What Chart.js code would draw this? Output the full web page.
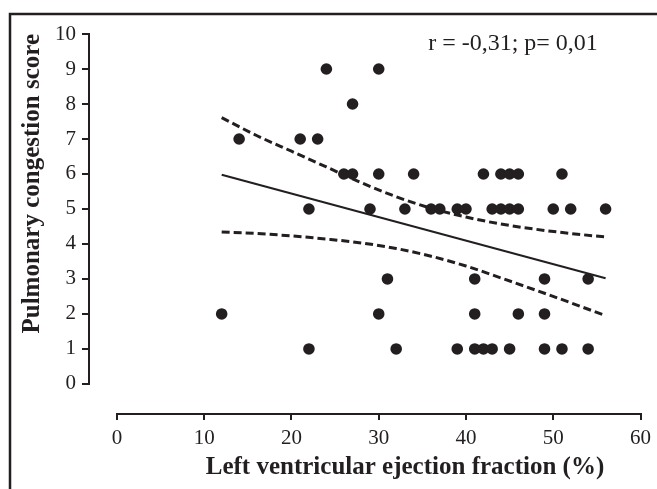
<!DOCTYPE html>
<html>
<head>
<meta charset="utf-8">
<script src="https://cdn.jsdelivr.net/npm/chart.js@4"></script>
<style>
  html, body { margin: 0; padding: 0; background: #fff; }
  #wrap { width: 657px; height: 489px; }
</style>
</head>
<body>
<div id="wrap"><canvas id="lvefChart" width="657" height="489"></canvas></div>
<script>
// Données
const lvef = [24, 30, 27, 14, 21, 23,
  26, 27, 30, 34, 42, 44, 45, 46, 51,
  22, 29, 33, 36, 37, 39, 40, 43, 44, 45, 46, 50, 52, 56,
  31, 41, 49, 54,
  12, 30, 41, 46, 49,
  22, 32, 39, 41, 42, 43, 45, 49, 51, 54];
const score = [9, 9, 8, 7, 7, 7,
  6, 6, 6, 6, 6, 6, 6, 6, 6,
  5, 5, 5, 5, 5, 5, 5, 5, 5, 5, 5, 5, 5, 5,
  3, 3, 3, 3,
  2, 2, 2, 2, 2,
  1, 1, 1, 1, 1, 1, 1, 1, 1, 1];

// Droite de régression
const fitX = [12, 56];
const fitY = [5.98, 3.02];

// Bandes de confiance (95 %)
const bandX = [12, 16, 20, 24, 28, 32, 36, 40, 44, 48, 52, 56];
const upperY = [7.61, 7.1, 6.65, 6.2, 5.75, 5.35, 5.02, 4.77, 4.57, 4.42, 4.3, 4.2];
const lowerY = [4.34, 4.3, 4.23, 4.14, 4.03, 3.87, 3.65, 3.37, 3.03, 2.68, 2.32, 1.95];

const xTicks = [0, 10, 20, 30, 40, 50, 60];
const yTicks = [0, 1, 2, 3, 4, 5, 6, 7, 8, 9, 10];

const statsLabel = 'r = -0,31; p= 0,01';
const xTitle = 'Left ventricular ejection fraction (%)';
const yTitle = 'Pulmonary congestion score';

const ink = '#231f20';
const serif = "'Liberation Serif', 'Times New Roman', serif";

const toPoints = (xs, ys) => xs.map((x, i) => ({ x: x, y: ys[i] }));

// Cadre, axes décalés, titre de l'axe X et texte de corrélation
const decorPlugin = {
    id: 'decor',
    beforeDraw(chart) {
        const c = chart.ctx;
        c.save();
        c.fillStyle = '#fff';
        c.fillRect(0, 0, chart.width, chart.height);
        c.strokeStyle = ink;
        c.lineWidth = 2.5;
        c.beginPath();
        c.moveTo(10, chart.height);
        c.lineTo(10, 14);
        c.lineTo(chart.width, 14);
        c.stroke();
        c.restore();
    },
    afterDraw(chart) {
        const c = chart.ctx;
        const xs = chart.scales.x;
        const ys = chart.scales.y;
        c.save();
        c.strokeStyle = ink;
        c.lineWidth = 2;
        c.beginPath();
        c.moveTo(ys.right - 1, ys.getPixelForValue(yTicks[0]));
        c.lineTo(ys.right - 1, ys.getPixelForValue(yTicks[yTicks.length - 1]));
        c.moveTo(xs.getPixelForValue(xTicks[0]), xs.top + 1);
        c.lineTo(xs.getPixelForValue(xTicks[xTicks.length - 1]), xs.top + 1);
        c.stroke();
        c.fillStyle = ink;
        c.textAlign = 'center';
        c.textBaseline = 'middle';
        c.font = '24px ' + serif;
        c.fillText(statsLabel, 513, 44);
        // titre X centré sous la graduation 0-60 (décalé comme sur l'original)
        c.font = 'bold 25px ' + serif;
        c.fillText(xTitle, 405, 468);
        c.restore();
    }
};

const ctx = document.getElementById('lvefChart').getContext('2d');
const lvefChart = new Chart(ctx, {
    type: 'scatter',
    data: {
        datasets: [
            {
                label: 'Patients',
                data: toPoints(lvef, score),
                backgroundColor: ink,
                borderColor: ink,
                pointRadius: 5.8,
                pointHoverRadius: 5.8,
                borderWidth: 0
            },
            {
                label: 'Régression',
                data: toPoints(fitX, fitY),
                showLine: true,
                borderColor: ink,
                borderWidth: 2,
                pointRadius: 0
            },
            {
                label: 'IC sup',
                data: toPoints(bandX, upperY),
                showLine: true,
                borderColor: ink,
                borderWidth: 3,
                borderDash: [8, 4],
                cubicInterpolationMode: 'monotone',
                pointRadius: 0
            },
            {
                label: 'IC inf',
                data: toPoints(bandX, lowerY),
                showLine: true,
                borderColor: ink,
                borderWidth: 3,
                borderDash: [8, 4],
                cubicInterpolationMode: 'monotone',
                pointRadius: 0
            }
        ]
    },
    options: {
        responsive: false,
        animation: false,
        layout: { padding: { top: 34, right: 16, bottom: 0, left: 0 } },
        plugins: {
            legend: { display: false },
            tooltip: { enabled: false }
        },
        scales: {
            x: {
                type: 'linear',
                min: -3.09,
                max: 60,
                afterBuildTicks: (s) => { s.ticks = xTicks.map(v => ({ value: v })); },
                afterFit: (s) => { s.height = 76; },
                border: { display: false },
                grid: { drawOnChartArea: false, drawTicks: true, tickLength: 7, color: ink, lineWidth: 2 },
                ticks: { color: ink, padding: 6, font: { family: serif, size: 21 }, maxRotation: 0 },
                title: { display: false }
            },
            y: {
                type: 'linear',
                min: -0.83,
                max: 10,
                afterBuildTicks: (s) => { s.ticks = yTicks.map(v => ({ value: v })); },
                afterFit: (s) => { s.width = 90; },
                border: { display: false },
                grid: { drawOnChartArea: false, drawTicks: true, tickLength: 8, color: ink, lineWidth: 2 },
                ticks: { color: ink, padding: 6, font: { family: serif, size: 21 } },
                title: {
                    display: true,
                    text: yTitle,
                    align: 'end',
                    color: ink,
                    font: { family: serif, size: 25, weight: 'bold' },
                    padding: { top: 18, bottom: 0 }
                }
            }
        }
    },
    plugins: [decorPlugin]
});
</script>
</body>
</html>
